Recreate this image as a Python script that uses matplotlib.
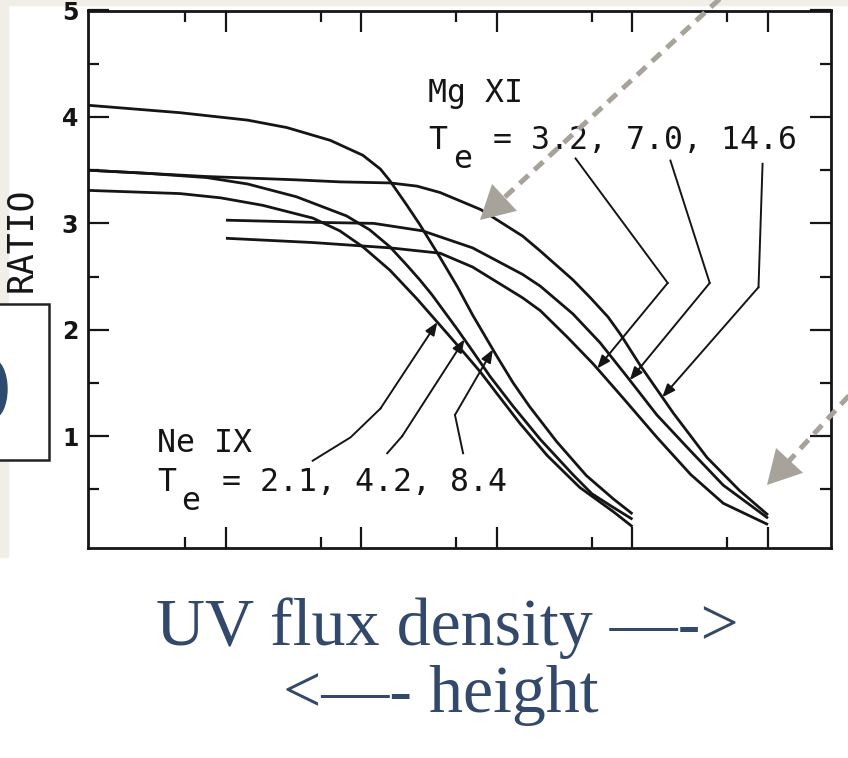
import numpy as np
import matplotlib.pyplot as plt
from matplotlib.patches import Rectangle, Ellipse, FancyArrowPatch
from matplotlib.lines import Line2D
from matplotlib.ticker import FixedLocator, NullFormatter

W, H = 848, 758

# Ne IX curves (log10 UV flux, line ratio)
ne_84_logx = [-1.02, -0.34, 0.16, 0.45, 0.77, 1.01, 1.14, 1.21, 1.33, 1.43, 1.58, 1.71, 1.82, 2.0, 2.12, 2.24, 2.44, 2.66, 2.86, 3.0]
ne_84_ratio = [4.11, 4.04, 3.97, 3.90, 3.78, 3.64, 3.51, 3.40, 3.18, 2.99, 2.68, 2.40, 2.14, 1.75, 1.50, 1.28, 0.95, 0.63, 0.41, 0.27]
ne_42_logx = [-1.02, -0.58, -0.14, 0.16, 0.52, 0.89, 1.06, 1.21, 1.34, 1.43, 1.52, 1.71, 1.82, 1.95, 2.12, 2.32, 2.56, 2.70, 2.86, 3.0]
ne_42_ratio = [3.50, 3.47, 3.43, 3.37, 3.25, 3.07, 2.94, 2.78, 2.60, 2.47, 2.33, 2.0, 1.80, 1.56, 1.28, 0.97, 0.64, 0.46, 0.33, 0.22]
ne_21_logx = [-1.02, -0.34, -0.04, 0.27, 0.64, 0.84, 1.01, 1.21, 1.41, 1.63, 1.78, 1.88, 2.0, 2.17, 2.37, 2.61, 2.86, 3.0]
ne_21_ratio = [3.31, 3.28, 3.24, 3.17, 3.05, 2.93, 2.78, 2.56, 2.29, 1.97, 1.75, 1.60, 1.40, 1.12, 0.82, 0.52, 0.29, 0.15]

# Mg XI curves
mg_146_logx = [-1.02, -0.58, -0.14, 0.5, 0.84, 1.21, 1.41, 1.58, 1.88, 2.19, 2.32, 2.56, 2.69, 2.82, 2.91, 3.06, 3.30, 3.55, 3.79, 4.0]
mg_146_ratio = [3.50, 3.47, 3.44, 3.41, 3.39, 3.38, 3.35, 3.29, 3.13, 2.88, 2.74, 2.47, 2.30, 2.12, 1.96, 1.66, 1.22, 0.80, 0.49, 0.26]
mg_70_logx = [0.0, 0.64, 1.09, 1.45, 1.82, 2.19, 2.32, 2.56, 2.76, 2.96, 3.18, 3.43, 3.67, 4.0]
mg_70_ratio = [3.03, 3.01, 3.00, 2.93, 2.77, 2.52, 2.41, 2.15, 1.88, 1.56, 1.20, 0.86, 0.54, 0.23]
mg_32_logx = [0.0, 0.64, 1.21, 1.58, 1.82, 2.19, 2.32, 2.52, 2.71, 2.93, 3.18, 3.43, 3.67, 4.0]
mg_32_ratio = [2.86, 2.82, 2.77, 2.72, 2.59, 2.30, 2.18, 1.93, 1.68, 1.36, 0.99, 0.64, 0.37, 0.17]

y_ticks = [1, 2, 3, 4, 5]
y_tick_labels = ['1', '2', '3', '4', '5']
x_major = [1, 10, 100, 1e3, 1e4]
x_minor = [0.5, 5, 50, 500, 5e3]

ink = '#151515'


def fpx(x, y):
    return (x / W, 1 - y / H)


fig = plt.figure(figsize=(W / 100, H / 100), dpi=100, facecolor='white')
ax = fig.add_axes([88 / W, 1 - 548 / H, (831 - 88) / W, (548 - 10.5) / H])
ax.set_xscale('log')
ax.set_xlim(10 ** -1.018, 10 ** 4.465)
ax.set_ylim(-0.05, 5.0)

curves = [(ne_84_logx, ne_84_ratio), (ne_42_logx, ne_42_ratio), (ne_21_logx, ne_21_ratio),
          (mg_146_logx, mg_146_ratio), (mg_70_logx, mg_70_ratio), (mg_32_logx, mg_32_ratio)]
for lx, r in curves:
    ax.plot(10 ** np.array(lx), r, color=ink, lw=2.0, solid_capstyle='butt')


def leader(pts, curve, end_lx):
    lx, r = curve
    end = (end_lx, np.interp(end_lx, lx, r))
    xs = [p[0] for p in pts]
    ys = [p[1] for p in pts]
    ax.plot(10 ** np.array(xs), ys, color=ink, lw=1.4)
    ax.annotate('', xy=(10 ** end[0], end[1]), xytext=(10 ** xs[-1], ys[-1]),
                arrowprops=dict(arrowstyle='-|>,head_length=0.55,head_width=0.22',
                                color=ink, lw=1.4, shrinkA=0, shrinkB=0,
                                mutation_scale=14))


# Mg XI leaders
leader([(2.58, 3.61), (3.26, 2.44)], curves[5], 2.74)
leader([(3.28, 3.59), (3.57, 2.44)], curves[4], 2.98)
leader([(3.96, 3.56), (3.93, 2.40)], curves[3], 3.22)
# Ne IX leaders
leader([(0.64, 0.77), (0.92, 0.99), (1.14, 1.26)], curves[2], 1.56)
leader([(1.19, 0.84), (1.30, 1.00)], curves[1], 1.76)
leader([(1.75, 0.84), (1.69, 1.20)], curves[0], 1.97)

ax.yaxis.set_major_locator(FixedLocator(y_ticks))
ax.set_yticklabels(y_tick_labels)
ax.yaxis.set_minor_locator(FixedLocator([0.5, 1.5, 2.5, 3.5, 4.5]))
ax.xaxis.set_major_locator(FixedLocator(x_major))
ax.xaxis.set_minor_locator(FixedLocator(x_minor))
ax.xaxis.set_major_formatter(NullFormatter())
ax.xaxis.set_minor_formatter(NullFormatter())
ax.tick_params(which='major', direction='in', length=15, width=1.6, color=ink,
               top=True, right=True, pad=7)
ax.tick_params(which='minor', direction='in', length=8, width=1.6, color=ink,
               top=True, right=True)
for lab in ax.get_yticklabels():
    lab.set_fontweight('bold')
    lab.set_fontsize(17)
    lab.set_color(ink)
for s in ax.spines.values():
    s.set_linewidth(2.0)
    s.set_color(ink)

mono = 'DejaVu Sans Mono'
fs = 22.7
# Mg XI label block
ax.text(10 ** 1.49, 4.14, 'Mg XI', family=mono, fontsize=fs, color=ink, va='baseline')
ax.text(10 ** 1.49, 3.70, 'T', family=mono, fontsize=fs, color=ink, va='baseline')
ax.text(10 ** 1.68, 3.52, 'e', family=mono, fontsize=fs, color=ink, va='baseline')
ax.text(10 ** 1.97, 3.70, '= 3.2, 7.0, 14.6', family=mono, fontsize=fs, color=ink, va='baseline')
# Ne IX label block
ax.text(10 ** -0.51, 0.85, 'Ne IX', family=mono, fontsize=fs, color=ink, va='baseline')
ax.text(10 ** -0.51, 0.49, 'T', family=mono, fontsize=fs, color=ink, va='baseline')
ax.text(10 ** -0.33, 0.31, 'e', family=mono, fontsize=fs, color=ink, va='baseline')
ax.text(10 ** -0.03, 0.49, '= 2.1, 4.2, 8.4', family=mono, fontsize=fs, color=ink, va='baseline')

fig.text(*fpx(21, 240), 'RATIO', rotation=90, family=mono, fontsize=25,
         color=ink, ha='center', va='center')

# slide elements around the scanned figure
beige = '#f1eee8'
fig.add_artist(Rectangle(fpx(0, 5), 1, 5 / H, transform=fig.transFigure,
                         color=beige, zorder=-1))
fig.add_artist(Rectangle(fpx(0, 557), 8 / W, 557 / H, transform=fig.transFigure,
                         color=beige, zorder=-1))
fig.add_artist(Rectangle(fpx(-10, 460), 59 / W, 156 / H, transform=fig.transFigure,
                         facecolor='white', edgecolor='#222222', lw=1.8))
fig.add_artist(Ellipse(fpx(-8, 389), 30 / W, 60 / H, transform=fig.transFigure,
                       color='#2e4a6e'))

grey = '#a7a39b'
for start, tip in [((725, -6), (480, 220)), ((856, 388), (767, 485))]:
    sx, sy = start
    tx, ty = tip
    d = np.hypot(tx - sx, ty - sy)
    ux, uy = (tx - sx) / d, (ty - sy) / d
    bx, by = tx - 22 * ux, ty - 22 * uy
    fig.add_artist(Line2D([fpx(sx, sy)[0], fpx(bx, by)[0]], [fpx(sx, sy)[1], fpx(bx, by)[1]],
                          transform=fig.transFigure, color=grey, lw=3.6,
                          linestyle=(0, (2.4, 1.6)), zorder=5))
    fig.add_artist(FancyArrowPatch(fpx(bx - 4 * ux, by - 4 * uy), fpx(tx, ty),
                                   transform=fig.transFigure, color=grey,
                                   arrowstyle='-|>,head_length=1.0,head_width=0.55',
                                   mutation_scale=24, lw=0, shrinkA=0, shrinkB=0, zorder=5))

navy = '#33496b'
fig.text(*fpx(447, 645), 'UV flux density —->', ha='center', va='baseline',
         fontsize=49, family='Liberation Serif', color=navy)
fig.text(*fpx(441, 712), '<—- height', ha='center', va='baseline',
         fontsize=49, family='Liberation Serif', color=navy)

fig.savefig('out.png', dpi=100, facecolor='white')
